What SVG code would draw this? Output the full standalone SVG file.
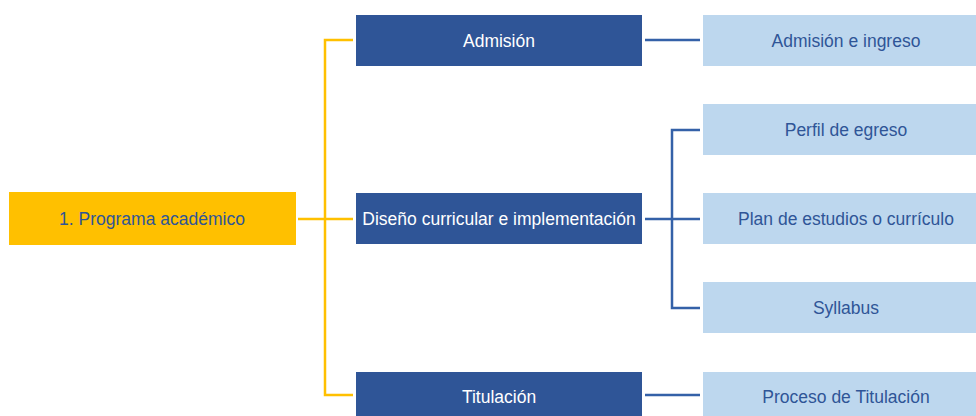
<svg xmlns="http://www.w3.org/2000/svg" width="976" height="416" viewBox="0 0 976 416">
<style>
.root{fill:#FFC000}
.mid{fill:#2F5597}
.leaf{fill:#BDD7EE}
text{font-family:"Liberation Sans",Arial,sans-serif;font-size:17.5px;text-anchor:middle;dominant-baseline:central}
.tw{fill:#FFFFFF}
.tb{fill:#2F5597}
.cy{stroke:#FFC000;stroke-width:2.5;fill:none}
.cb{stroke:#3461A8;stroke-width:2.5;fill:none}
</style>
<rect width="976" height="416" fill="#FFFFFF"/>
<g id="connectors">
<path class="cy" d="M298 219H325M353 40H325V395H353M325 219H353"/>
<path class="cb" d="M645 40H700"/>
<path class="cb" d="M645 219H700M700 130H672V308H700"/>
<path class="cb" d="M645 395H700"/>
</g>
<g id="n-programa"><rect class="root" x="9" y="192" width="287" height="53"/><text class="tb" x="152" y="219">1. Programa académico</text></g>
<g id="n-admision"><rect class="mid" x="356" y="15" width="286" height="51"/><text class="tw" x="499" y="41">Admisión</text></g>
<g id="n-diseno"><rect class="mid" x="356" y="193" width="286" height="51"/><text class="tw" x="499" y="219">Diseño curricular e implementación</text></g>
<g id="n-titulacion"><rect class="mid" x="356" y="372" width="286" height="51"/><text class="tw" x="499" y="397">Titulación</text></g>
<g id="n-admision-ingreso"><rect class="leaf" x="703" y="15" width="273" height="51"/><text class="tb" x="846" y="41">Admisión e ingreso</text></g>
<g id="n-perfil"><rect class="leaf" x="703" y="104" width="273" height="51"/><text class="tb" x="846" y="130">Perfil de egreso</text></g>
<g id="n-plan"><rect class="leaf" x="703" y="193" width="273" height="51"/><text class="tb" x="846" y="219">Plan de estudios o currículo</text></g>
<g id="n-syllabus"><rect class="leaf" x="703" y="282" width="273" height="51"/><text class="tb" x="846" y="308">Syllabus</text></g>
<g id="n-proceso"><rect class="leaf" x="703" y="372" width="273" height="51"/><text class="tb" x="846" y="397">Proceso de Titulación</text></g>
</svg>
